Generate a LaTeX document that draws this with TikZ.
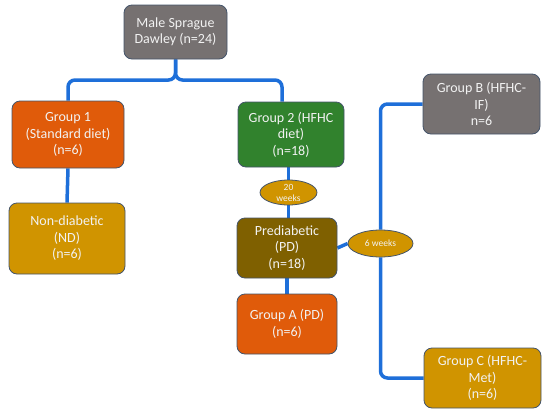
\documentclass[tikz,border=0pt]{standalone}
\usepackage{fontspec}
\setmainfont{Carlito}
\usetikzlibrary{shapes.geometric,backgrounds}
\definecolor{cgray}{HTML}{767171}
\definecolor{cgreen}{HTML}{31822D}
\definecolor{corange}{HTML}{E05B0A}
\definecolor{cgold}{HTML}{D09400}
\definecolor{cbrown}{HTML}{7F6000}
\definecolor{cline}{HTML}{1E6FD9}
\definecolor{cborder}{HTML}{44546A}
\tikzset{
  box/.style={draw=cborder, line width=0.8pt, rounded corners=8pt, text=white!95!black,
    align=center, font=\fontsize{14}{16.5}\selectfont, inner sep=2pt},
  oval/.style={ellipse, draw=cborder, line width=0.8pt, fill=cgold, text=white!95!black,
    align=center, inner sep=0pt, font=\fontsize{9.5}{11}\selectfont},
  conn/.style={draw=cline, line width=3.5pt, rounded corners=7pt},
}
\begin{document}
\begin{tikzpicture}[x=1pt,y=-1pt]
\useasboundingbox (0,0) rectangle (550,416);
\node[box, fill=cgray, minimum width=103pt, minimum height=54pt] (top) at (175.5,32) {Male Sprague\\Dawley (n=24)};
\node[box, fill=corange, minimum width=112pt, minimum height=67pt] (g1) at (68,134.5) {Group 1\\(Standard diet)\\(n=6)};
\node[box, fill=cgold, minimum width=116pt, minimum height=71pt] (nd) at (67,238.5) {Non-diabetic\\(ND)\\(n=6)};
\node[box, fill=cgreen, minimum width=106pt, minimum height=65pt] (g2) at (291,134.5) {Group 2 (HFHC\\diet)\\(n=18)};
\node[oval, minimum width=57pt, minimum height=25pt] (w20) at (288.5,192.5) {20\\weeks};
\node[box, fill=cbrown, minimum width=100pt, minimum height=60pt] (pd) at (287,248) {Prediabetic\\(PD)\\(n=18)};
\node[box, fill=corange, minimum width=100pt, minimum height=60pt] (ga) at (287,324) {Group A (PD)\\(n=6)};
\node[oval, minimum width=65pt, minimum height=27pt] (w6) at (380.5,243.5) {6 weeks};
\node[box, fill=cgray, minimum width=117pt, minimum height=60pt] (gb) at (481.5,104) {Group B (HFHC-\\IF)\\n=6};
\node[box, fill=cgold, minimum width=117pt, minimum height=60pt] (gc) at (482.5,378) {Group C (HFHC-\\Met)\\(n=6)};
\begin{scope}[on background layer]
\draw[conn] (top.south) -- (175.5,80) -| (g1.north);
\draw[conn] (top.south) -- (175.5,80) -| ([xshift=-9pt]g2.north);
\draw[conn] (g1.south) -- (nd.north);
\draw[conn] ([xshift=-2.5pt]g2.south) -- (w20.north);
\draw[conn] (w20.south) -- ([xshift=1.5pt]pd.north);
\draw[conn] (pd.south) -- (ga.north);
\draw[conn] (pd.east) -- (w6.west);
\draw[conn] (w6.north) |- (gb.west);
\draw[conn] (w6.south) |- (gc.west);
\end{scope}
\end{tikzpicture}
\end{document}
